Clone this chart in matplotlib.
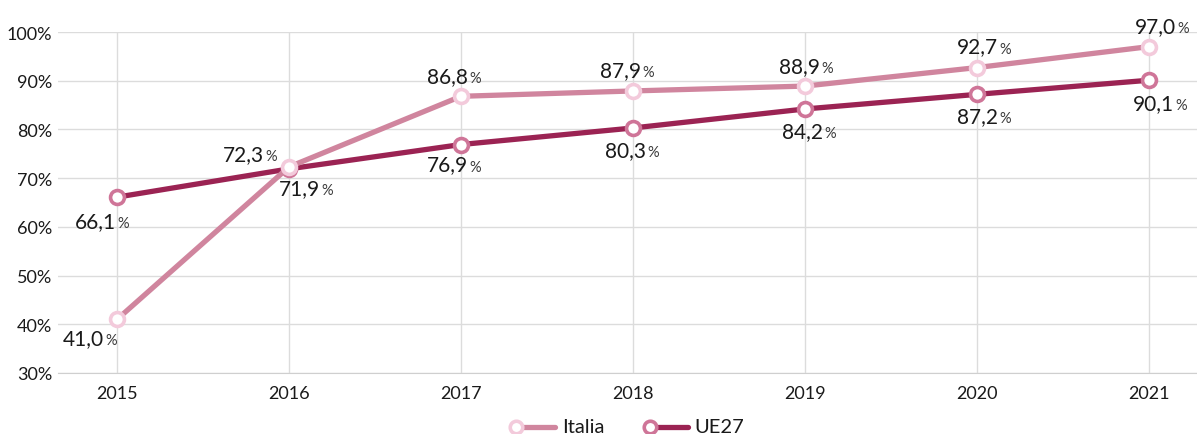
import matplotlib
matplotlib.use("Agg")
import matplotlib.pyplot as plt
from matplotlib.lines import Line2D

# ── Data ──────────────────────────────────────────────────
years  = [2015, 2016, 2017, 2018, 2019, 2020, 2021]
italia = [41.0, 72.3, 86.8, 87.9, 88.9, 92.7, 97.0]
ue27   = [66.1, 71.9, 76.9, 80.3, 84.2, 87.2, 90.1]
y_ticks = [30, 40, 50, 60, 70, 80, 90, 100]

# label offsets (pixels) : junction between number and "%", baseline
it_off = [(-13, -25), (-25, 7), (7, 14), (8, 15), (15, 14), (21, 15), (27, 15)]
ue_off = [(-1, -30), (31, -25), (7, -26), (13, -28), (18, -28), (21, -28), (25, -29)]

# ── Style ─────────────────────────────────────────────────
FONT      = "Lato"
IT_LINE   = "#d0859e"
IT_EDGE   = "#f3cadb"
UE_LINE   = "#9b2353"
UE_EDGE   = "#cf7598"
GRID      = "#dcdcdc"
TXT       = "#1a1a1a"

plt.rcParams["font.family"] = [FONT, "DejaVu Sans"]

fig = plt.figure(figsize=(11.97, 4.35), dpi=100, facecolor="white")
ax = fig.add_axes([58 / 1197, 1 - 374 / 435, 1 - 58 / 1197, (374 - 33) / 435])

ax.set_xlim(2015 - 59 / 172, 2021 + 48 / 172)
ax.set_ylim(30, 100)
ax.set_xticks(years)
ax.set_yticks(y_ticks)
ax.set_xticklabels([str(y) for y in years], fontsize=13, color=TXT)
ax.set_yticklabels([f"{v}%" for v in y_ticks], fontsize=13, color=TXT)
ax.tick_params(length=0, pad=4)
ax.tick_params(axis="x", pad=9)
ax.grid(True, color=GRID, lw=1)
ax.set_axisbelow(True)
for s in ["top", "right", "left"]:
    ax.spines[s].set_visible(False)
ax.spines["bottom"].set_color("#cfcfcf")

ax.plot(years, ue27, color=UE_LINE, lw=3.8, marker="o", ms=10,
        mfc="white", mec=UE_EDGE, mew=2.6, zorder=3, clip_on=False)
ax.plot(years, italia, color=IT_LINE, lw=3.8, marker="o", ms=10,
        mfc="white", mec=IT_EDGE, mew=2.6, zorder=4, clip_on=False)


def label(x, v, off):
    dx, dy = off
    ax.annotate(f"{v:.1f}".replace(".", ","), (x, v), xytext=(dx, dy),
                textcoords="offset pixels", ha="right", va="baseline",
                fontsize=15, color=TXT, annotation_clip=False)
    ax.annotate("%", (x, v), xytext=(dx + 1, dy),
                textcoords="offset pixels", ha="left", va="baseline",
                fontsize=10.5, color="#3a3a3a", annotation_clip=False)


for x, v, o in zip(years, italia, it_off):
    label(x, v, o)
for x, v, o in zip(years, ue27, ue_off):
    label(x, v, o)

# ── Legend (manual, bottom centre) ────────────────────────
W, H = 1197, 435
ly = 1 - 428 / H
for x0, x1, tx, name, lc, ec in [(516, 555, 562, "Italia", IT_LINE, IT_EDGE),
                                 (650, 688, 694, "UE27", UE_LINE, UE_EDGE)]:
    fig.add_artist(Line2D([x0 / W, x1 / W], [ly, ly], color=lc, lw=3.8,
                          solid_capstyle="round", transform=fig.transFigure))
    fig.add_artist(Line2D([x0 / W], [ly], marker="o", ms=9, mfc="white",
                          mec=ec, mew=2.6, transform=fig.transFigure))
    fig.text(tx / W, ly, name, fontsize=14.5, color=TXT, va="center", ha="left")

fig.savefig("out.png", dpi=100, facecolor="white")
